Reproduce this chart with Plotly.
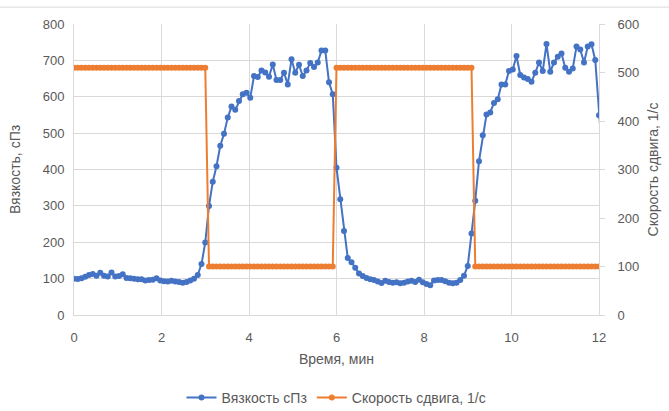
import plotly.graph_objects as go

# Sampling: one reading every ~5.14 s (140 intervals over 12 min); time axis in minutes
sample_interval_min = 12 / 140
time_min = [round(k * sample_interval_min, 4) for k in range(142)]

# Viscosity, cP (left axis)
viscosity = [
    100, 99, 101, 105, 110, 113, 108, 116, 108, 106,
    117, 106, 107, 112, 102, 101, 100, 98, 98, 95,
    96, 97, 101, 95, 93, 92, 94, 92, 91, 89,
    91, 95, 100, 110, 140, 199, 300, 366, 409, 465,
    498, 543, 573, 564, 588, 607, 611, 597, 657, 654,
    672, 667, 655, 689, 646, 646, 666, 634, 703, 666,
    688, 657, 672, 693, 682, 694, 727, 727, 640, 607,
    405, 318, 231, 157, 145, 130, 114, 107, 102, 98,
    96, 92, 88, 94, 91, 89, 90, 87, 89, 92,
    94, 91, 97, 90, 85, 82, 95, 96, 96, 93,
    89, 87, 89, 96, 108, 135, 224, 314, 423, 494,
    551, 557, 583, 593, 634, 634, 671, 675, 712, 660,
    653, 649, 641, 666, 694, 671, 745, 669, 694, 710,
    719, 680, 669, 678, 738, 730, 694, 738, 744, 701,
    549, 420,
]

# Shear rate, 1/s (right axis)
shear_rate = [
    510, 510, 510, 510, 510, 510, 510, 510, 510, 510,
    510, 510, 510, 510, 510, 510, 510, 510, 510, 510,
    510, 510, 510, 510, 510, 510, 510, 510, 510, 510,
    510, 510, 510, 510, 510, 510, 100, 100, 100, 100,
    100, 100, 100, 100, 100, 100, 100, 100, 100, 100,
    100, 100, 100, 100, 100, 100, 100, 100, 100, 100,
    100, 100, 100, 100, 100, 100, 100, 100, 100, 100,
    510, 510, 510, 510, 510, 510, 510, 510, 510, 510,
    510, 510, 510, 510, 510, 510, 510, 510, 510, 510,
    510, 510, 510, 510, 510, 510, 510, 510, 510, 510,
    510, 510, 510, 510, 510, 510, 510, 100, 100, 100,
    100, 100, 100, 100, 100, 100, 100, 100, 100, 100,
    100, 100, 100, 100, 100, 100, 100, 100, 100, 100,
    100, 100, 100, 100, 100, 100, 100, 100, 100, 100,
    100,
]

x_ticks = [0, 2, 4, 6, 8, 10, 12]
left_ticks = [0, 100, 200, 300, 400, 500, 600, 700, 800]
right_ticks = [0, 100, 200, 300, 400, 500, 600]

BLUE = "#4472C4"
ORANGE = "#ED7D31"
GRID = "#D9D9D9"
TXT = "#595959"
FONT = "Liberation Sans"

fig = go.Figure()
fig.add_trace(go.Scatter(
    x=time_min, y=viscosity, name="Вязкость сПз", mode="lines+markers",
    line=dict(color=BLUE, width=2), marker=dict(color=BLUE, size=6),
))
fig.add_trace(go.Scatter(
    x=time_min[:len(shear_rate)], y=shear_rate, name="Скорость сдвига, 1/с",
    mode="lines+markers", yaxis="y2",
    line=dict(color=ORANGE, width=2), marker=dict(color=ORANGE, size=6),
))

fig.update_layout(
    width=669, height=411,
    margin=dict(l=74, r=70, t=24, b=96, autoexpand=False),
    paper_bgcolor="white", plot_bgcolor="white",
    font=dict(family=FONT, size=13, color=TXT),
    showlegend=True,
    legend=dict(orientation="h", x=0.5, xanchor="center", yref="container",
                y=0.032, yanchor="middle", font=dict(size=14, color=TXT)),
    xaxis=dict(range=[0, 12], tickvals=x_ticks, showgrid=True, gridcolor=GRID, gridwidth=1,
               showline=True, linecolor=GRID, zeroline=False, ticks="",
               ticklabelstandoff=10, automargin=False,
               title=dict(text="Время, мин", standoff=10, font=dict(size=14, color=TXT)),
               tickfont=dict(size=13, color=TXT)),
    yaxis=dict(range=[0, 800], tickvals=left_ticks, showgrid=True, gridcolor=GRID, gridwidth=1,
               showline=True, linecolor=GRID, zeroline=False, ticks="",
               ticklabelstandoff=6, automargin=False,
               title=dict(text="Вязкость, сПз", standoff=18, font=dict(size=14, color=TXT)),
               tickfont=dict(size=13, color=TXT)),
    yaxis2=dict(range=[0, 600], tickvals=right_ticks, overlaying="y", side="right",
                showgrid=False, showline=True, linecolor=GRID, zeroline=False,
                ticks="outside", ticklen=5, tickcolor=GRID,
                ticklabelstandoff=10, automargin=False,
                title=dict(text="Скорость сдвига, 1/с", standoff=9, font=dict(size=14, color=TXT)),
                tickfont=dict(size=13, color=TXT)),
)

fig.add_shape(type="line", xref="paper", yref="paper", x0=-0.15, x1=1.15, y0=1.058, y1=1.058,
              line=dict(color=GRID, width=1))

fig.write_html("out.html")
